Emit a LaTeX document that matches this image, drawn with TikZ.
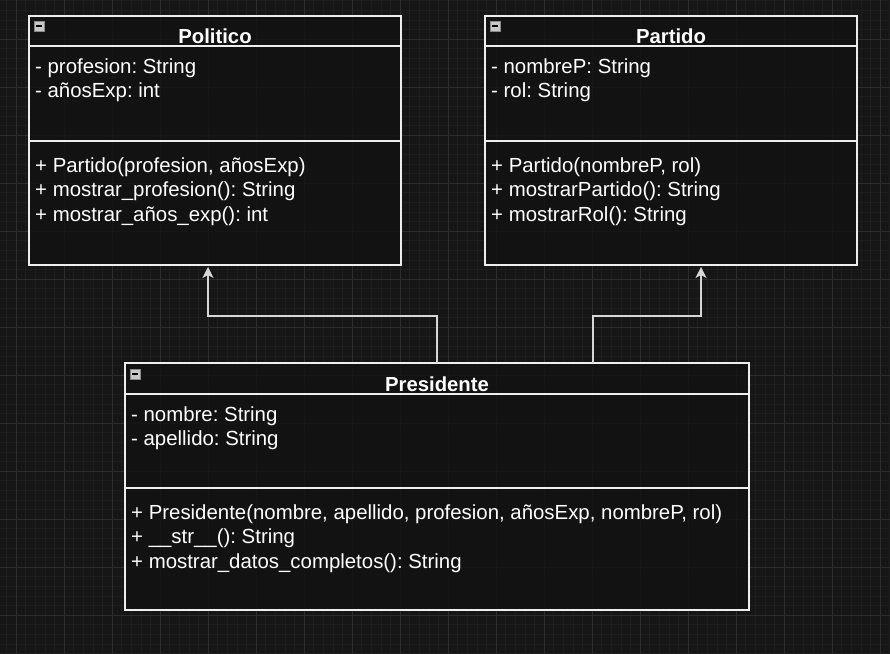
\documentclass[tikz,border=0pt]{standalone}
\usepackage{fontspec}
\setmainfont{Liberation Sans}
\usetikzlibrary{arrows.meta}
\frenchspacing
\definecolor{bg}{HTML}{161616}
\definecolor{boxfill}{HTML}{121212}
\definecolor{minorgrid}{HTML}{1D1D1D}
\definecolor{majorgrid}{HTML}{2C2C2C}
\definecolor{edge}{HTML}{EEEEEE}
\definecolor{conncol}{HTML}{D6D6D6}
\definecolor{iconfill}{HTML}{C8C8C8}
\definecolor{icondraw}{HTML}{8A8A8A}
\tikzset{
  minorline/.style={draw=minorgrid, line width=0.6pt},
  majorline/.style={draw=majorgrid, line width=1pt},
  umlbox/.style={draw=edge, line width=1.3pt, fill=boxfill, fill opacity=0.82, draw opacity=1, rectangle, inner sep=0pt, outer sep=0pt, anchor=north west},
  sepline/.style={draw=edge, line width=1.3pt},
  txt/.style={text=white, anchor=base west, inner sep=0pt, font=\fontsize{20.4}{24}\selectfont},
  ttl/.style={text=white, anchor=base, inner sep=0pt, font=\fontsize{20.3}{24}\selectfont\bfseries},
  conn/.style={draw=conncol, line width=1.3pt, -{Stealth[length=11pt,width=11pt,inset=3pt]}},
  iconbox/.style={draw=icondraw, fill=iconfill, line width=0.8pt},
  iconbar/.style={draw=black, line width=1.1pt}
}
\begin{document}
\begin{tikzpicture}[x=1pt,y=-1pt]
\fill[bg] (0,0) rectangle (890,653);
\useasboundingbox (0,0) rectangle (890,653);
% grid
\foreach \i in {0,...,92} {\draw[minorline] (6.4+\i*9.6,0) -- ++(0,653);}
\foreach \j in {0,...,68} {\draw[minorline] (0,0.6+\j*9.6) -- ++(890,0);}
\foreach \x in {16,64,...,880} {\draw[majorline] (\x,0) -- ++(0,653);}
\foreach \y in {39,87,...,640} {\draw[majorline] (0,\y) -- ++(890,0);}

% Politico
\node[umlbox, minimum width=372pt, minimum height=249pt] (pol) at (29,16) {};
\draw[sepline] ([yshift=-30pt]pol.north west) -- ([yshift=-30pt]pol.north east);
\draw[sepline] ([yshift=-125pt]pol.north west) -- ([yshift=-125pt]pol.north east);
\draw[iconbox] (34,21) rectangle (44,31);
\draw[iconbar] (36,26) -- (42,26);
\node[ttl] (polt) at (215,43) {Politico};
\node[txt] (pola1) at (35,73) {- profesion: String};
\node[txt] (pola2) at (35,97) {- añosExp: int};
\node[txt] (polm1) at (35,172) {+ Partido(profesion, añosExp)};
\node[txt] (polm2) at (35,196) {+ mostrar\_profesion(): String};
\node[txt] (polm3) at (35,221) {+ mostrar\_años\_exp(): int};

% Partido
\node[umlbox, minimum width=372pt, minimum height=249pt] (par) at (485,16) {};
\draw[sepline] ([yshift=-30pt]par.north west) -- ([yshift=-30pt]par.north east);
\draw[sepline] ([yshift=-125pt]par.north west) -- ([yshift=-125pt]par.north east);
\draw[iconbox] (490,21) rectangle (500,31);
\draw[iconbar] (492,26) -- (498,26);
\node[ttl] (part) at (671,43) {Partido};
\node[txt] (para1) at (491,73) {- nombreP: String};
\node[txt] (para2) at (491,97) {- rol: String};
\node[txt] (parm1) at (491,172) {+ Partido(nombreP, rol)};
\node[txt] (parm2) at (491,196) {+ mostrarPartido(): String};
\node[txt] (parm3) at (491,221) {+ mostrarRol(): String};

% Presidente
\node[umlbox, minimum width=624pt, minimum height=247pt] (pres) at (125,363) {};
\draw[sepline] ([yshift=-31pt]pres.north west) -- ([yshift=-31pt]pres.north east);
\draw[sepline] ([yshift=-125pt]pres.north west) -- ([yshift=-125pt]pres.north east);
\draw[iconbox] (130,369) rectangle (140,379);
\draw[iconbar] (132,374) -- (138,374);
\node[ttl] (prest) at (437,391) {Presidente};
\node[txt] (presa1) at (131,421) {- nombre: String};
\node[txt] (presa2) at (131,445) {- apellido: String};
\node[txt] (presm1) at (131,519) {+ Presidente(nombre, apellido, profesion, añosExp, nombreP, rol)};
\node[txt] (presm2) at (131,543) {+ \_\_str\_\_(): String};
\node[txt] (presm3) at (131,568) {+ mostrar\_datos\_completos(): String};

% connectors
\draw[conn] (pres.north) -- ++(0,-47) -| ([xshift=-7pt,yshift=-2pt]pol.south);
\draw[conn] ([xshift=156pt]pres.north) -- ++(0,-47) -| ([xshift=30pt,yshift=-2pt]par.south);
\end{tikzpicture}
\end{document}
